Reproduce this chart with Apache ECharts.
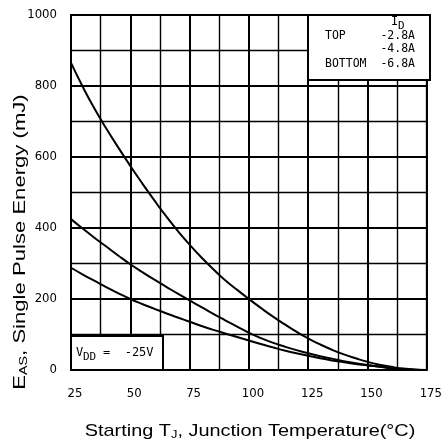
<!DOCTYPE html>
<html>
<head>
<meta charset="utf-8">
<script src="https://cdn.jsdelivr.net/npm/echarts@6/dist/echarts.min.js"></script>
<style>
  html, body { margin: 0; padding: 0; background: #fff; }
  #chart { width: 445px; height: 447px; }
</style>
</head>
<body>
<div id="chart"></div>
<script>
// starting junction temperature (deg C)
const temps = [25, 30, 35, 40, 45, 50, 55, 60, 65, 70, 75, 80, 85, 90, 95, 100,
  105, 110, 115, 120, 125, 130, 135, 140, 145, 150, 155, 160, 165, 170, 175];
// EAS (mJ) for each ID
const eas28 = [865, 797, 735, 679, 626, 575, 526, 479, 434, 392, 353, 317, 284, 253, 226, 200,
  175, 151, 129, 108, 89, 72, 57, 44, 33, 23, 15, 9, 4, 1, 0];
const eas48 = [425, 398, 372, 347, 322, 298, 276, 255, 235, 215, 196, 177, 158, 140, 122, 105,
  90, 77, 66, 56, 47, 39, 32, 25, 19, 14, 10, 6, 3, 1, 0];
const eas68 = [288, 269, 251, 233, 216, 200, 186, 173, 160, 148, 136, 124, 113, 103, 93, 83,
  73, 64, 55, 47, 40, 33, 27, 22, 17, 13, 9, 5, 2, 1, 0];
const idLabels = ['-2.8A', '-4.8A', '-6.8A'];

const chart = echarts.init(document.getElementById('chart'));

const tickFont = 'Liberation Sans Narrow, DejaVu Sans Condensed, sans-serif';
const plotFont = 'DejaVu Sans Mono, monospace';
const titleFont = 'Liberation Sans, Arial, sans-serif';

function curve(name, vals) {
  return {
    name: name,
    type: 'line',
    data: temps.map((t, i) => [t, vals[i]]),
    smooth: true,
    showSymbol: false,
    lineStyle: { color: '#000', width: 2 },
    z: 5
  };
}

const option = {
  animation: false,
  backgroundColor: '#fff',
  grid: { left: 71, right: 15, top: 15, bottom: 77, show: true, borderColor: '#000', borderWidth: 2 },
  xAxis: {
    type: 'value',
    min: 25, max: 175, interval: 25,
    axisLine: { show: false },
    axisTick: { show: false },
    axisLabel: { color: '#000', fontFamily: tickFont, fontSize: 13, margin: 17, padding: [0, 0, 0, 8] },
    splitLine: { show: true, lineStyle: { color: '#000', width: 2 } },
    minorTick: { show: false, splitNumber: 2 },
    minorSplitLine: { show: true, lineStyle: { color: '#000', width: 1.4 } }
  },
  yAxis: {
    type: 'value',
    min: 0, max: 1000, interval: 200,
    axisLine: { show: false },
    axisTick: { show: false },
    axisLabel: { color: '#000', fontFamily: tickFont, fontSize: 13, margin: 14, formatter: (v) => String(v) },
    splitLine: { show: true, lineStyle: { color: '#000', width: 2 } },
    minorTick: { show: false, splitNumber: 2 },
    minorSplitLine: { show: true, lineStyle: { color: '#000', width: 1.4 } }
  },
  series: [
    curve(idLabels[0], eas28),
    curve(idLabels[1], eas48),
    curve(idLabels[2], eas68)
  ],
  graphic: [
    // X axis title
    {
      type: 'text',
      x: 250, y: 431,
      scaleX: 1.17,
      z: 100,
      style: {
        text: '{a|Starting T}{s|J}{a|, Junction Temperature(°C)}',
        align: 'center',
        verticalAlign: 'middle',
        rich: {
          a: { fontFamily: titleFont, fontSize: 17, fill: '#000' },
          s: { fontFamily: titleFont, fontSize: 11, fill: '#000', padding: [8, 0, 0, 0] }
        }
      }
    },
    // Y axis title
    {
      type: 'text',
      x: 20, y: 242,
      rotation: Math.PI / 2,
      scaleX: 1.3,
      z: 100,
      style: {
        text: '{a|E}{s|AS}{a|, Single Pulse Energy (mJ)}',
        align: 'center',
        verticalAlign: 'middle',
        rich: {
          a: { fontFamily: titleFont, fontSize: 17, fill: '#000' },
          s: { fontFamily: titleFont, fontSize: 11, fill: '#000', padding: [8, 0, 0, 0] }
        }
      }
    },
    // ID legend box
    {
      type: 'rect',
      z: 100,
      shape: { x: 308, y: 15, width: 122, height: 65 },
      style: { fill: '#fff', stroke: '#000', lineWidth: 2 }
    },
    {
      type: 'text', z: 101, x: 391, y: 16,
      style: { text: 'I', font: '12px ' + plotFont, fill: '#000' }
    },
    {
      type: 'text', z: 101, x: 398, y: 21,
      style: { text: 'D', font: '11px ' + plotFont, fill: '#000' }
    },
    {
      type: 'text', z: 101, x: 325, y: 30,
      style: { text: 'TOP', font: '11.5px ' + plotFont, fill: '#000' }
    },
    {
      type: 'text', z: 101, x: 415, y: 30,
      style: { text: idLabels[0], font: '11.5px ' + plotFont, fill: '#000', align: 'right' }
    },
    {
      type: 'text', z: 101, x: 415, y: 43,
      style: { text: idLabels[1], font: '11.5px ' + plotFont, fill: '#000', align: 'right' }
    },
    {
      type: 'text', z: 101, x: 325, y: 58,
      style: { text: 'BOTTOM', font: '11.5px ' + plotFont, fill: '#000' }
    },
    {
      type: 'text', z: 101, x: 415, y: 58,
      style: { text: idLabels[2], font: '11.5px ' + plotFont, fill: '#000', align: 'right' }
    },
    // VDD box
    {
      type: 'rect',
      z: 100,
      shape: { x: 71, y: 336, width: 92, height: 34 },
      style: { fill: '#fff', stroke: '#000', lineWidth: 2 }
    },
    {
      type: 'text', z: 101, x: 76, y: 347,
      style: { text: 'V', font: '12px ' + plotFont, fill: '#000' }
    },
    {
      type: 'text', z: 101, x: 83, y: 352,
      style: { text: 'DD', font: '11px ' + plotFont, fill: '#000' }
    },
    {
      type: 'text', z: 101, x: 103, y: 347,
      style: { text: '=  -25V', font: '12px ' + plotFont, fill: '#000' }
    }
  ]
};

chart.setOption(option);
</script>
</body>
</html>
